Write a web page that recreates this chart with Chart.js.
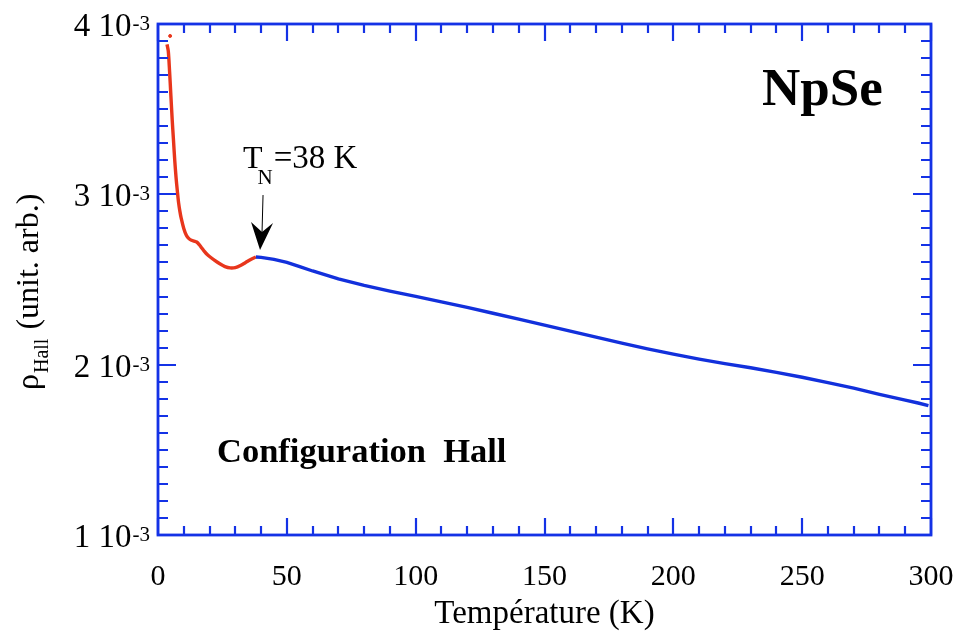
<!DOCTYPE html>
<html>
<head>
<meta charset="utf-8">
<script src="https://cdn.jsdelivr.net/npm/chart.js@4.4.1/dist/chart.umd.min.js"></script>
<style>
    html, body { margin: 0; padding: 0; background: #fff; }
    #wrap { width: 957px; height: 634px; }
</style>
</head>
<body>
<div id="wrap"><canvas id="hall" width="957" height="634"></canvas></div>
<script>
// rho values are in units of 1e-3
const lowT = [3.5, 4.0, 4.5, 5.0, 5.5, 6.0, 6.5, 7.0, 7.5, 8.0, 8.5, 9.0, 10, 11, 12, 13, 14, 15, 16, 17, 18, 19, 20, 22, 24, 26, 28, 30, 32, 34, 36, 38];
const lowRho = [3.88, 3.84, 3.72, 3.58, 3.44, 3.32, 3.20, 3.10, 3.02, 2.95, 2.90, 2.86, 2.80, 2.76, 2.74, 2.73, 2.725, 2.72, 2.705, 2.685, 2.665, 2.648, 2.635, 2.612, 2.592, 2.576, 2.568, 2.570, 2.582, 2.600, 2.618, 2.632];
const highT = [38, 40, 45, 50, 55, 60, 70, 80, 90, 100, 110, 120, 130, 140, 150, 160, 170, 180, 190, 200, 210, 220, 230, 240, 250, 260, 270, 280, 290, 295, 299];
const highRho = [2.632, 2.630, 2.618, 2.600, 2.576, 2.550, 2.504, 2.466, 2.432, 2.401, 2.369, 2.336, 2.302, 2.267, 2.232, 2.197, 2.162, 2.127, 2.093, 2.062, 2.033, 2.006, 1.982, 1.955, 1.926, 1.895, 1.862, 1.826, 1.792, 1.775, 1.760];
const strayT = [4.7];
const strayRho = [3.93];
const xTicks = [0, 50, 100, 150, 200, 250, 300];
const yTicks = [1, 2, 3, 4];
const xMinorStep = 10;
const yMinorStep = 0.1;

const AXIS_BLUE = "#1432e6";
const DATA_BLUE = "#1230dc";
const DATA_RED = "#e8361c";
const SERIF = "'Liberation Serif', 'DejaVu Serif', serif";

function toPoints(xs, ys) {
    return xs.map((x, i) => ({ x: x, y: ys[i] }));
}

const framePlugin = {
    id: "frame",
    afterDatasetsDraw(chart) {
        const ctx = chart.ctx;
        const area = chart.chartArea;
        const xs = chart.scales.x;
        const ys = chart.scales.y;
        ctx.save();

        // inward ticks on all four sides
        ctx.strokeStyle = AXIS_BLUE;
        ctx.lineWidth = 2.2;
        ctx.beginPath();
        for (let v = xs.min; v <= xs.max + 0.001; v += xMinorStep) {
            const px = Math.round(xs.getPixelForValue(v));
            const len = xTicks.includes(Math.round(v)) ? 17 : 9;
            ctx.moveTo(px, area.bottom);
            ctx.lineTo(px, area.bottom - len);
            ctx.moveTo(px, area.top);
            ctx.lineTo(px, area.top + len);
        }
        for (let v = ys.min; v <= ys.max + 0.0001; v += yMinorStep) {
            const py = Math.round(ys.getPixelForValue(v));
            const major = Math.abs(v - Math.round(v)) < 0.001;
            const len = major ? 18 : 10;
            ctx.moveTo(area.left, py);
            ctx.lineTo(area.left + len, py);
            ctx.moveTo(area.right, py);
            ctx.lineTo(area.right - len, py);
        }
        ctx.stroke();

        ctx.lineWidth = 2.8;
        ctx.strokeRect(area.left, area.top, area.right - area.left, area.bottom - area.top);

        // x tick labels
        ctx.fillStyle = "#000";
        ctx.font = "30px " + SERIF;
        ctx.textAlign = "center";
        ctx.textBaseline = "alphabetic";
        xTicks.forEach(v => {
            ctx.fillText(String(v), xs.getPixelForValue(v), 585);
        });

        // y tick labels  "n 10^-3"
        yTicks.forEach(v => {
            const py = ys.getPixelForValue(v);
            ctx.font = "21px " + SERIF;
            ctx.textAlign = "left";
            const supW = ctx.measureText("-3").width;
            ctx.fillText("-3", 150 - supW, py + 6);
            ctx.font = "33px " + SERIF;
            ctx.textAlign = "right";
            ctx.fillText(v + " 10", 150 - supW - 1, py + 12);
        });

        // x axis title
        ctx.font = "33px " + SERIF;
        ctx.textAlign = "center";
        ctx.fillText("Température (K)", (area.left + area.right) / 2, 623);

        // y axis title, rotated
        ctx.save();
        ctx.translate(38, 390);
        ctx.rotate(-Math.PI / 2);
        ctx.textAlign = "left";
        ctx.font = "32px " + SERIF;
        ctx.fillText("ρ", 0, 0);
        let w = ctx.measureText("ρ").width;
        ctx.font = "20px " + SERIF;
        ctx.fillText("Hall", w + 1, 10);
        w += 1 + ctx.measureText("Hall").width;
        ctx.font = "32px " + SERIF;
        ctx.fillText(" (unit. arb.)", w + 1, 0);
        ctx.restore();

        // sample name
        ctx.font = "bold 53px " + SERIF;
        ctx.textAlign = "left";
        ctx.fillText("NpSe", 762, 105);

        // configuration note
        ctx.font = "bold 34.5px " + SERIF;
        ctx.fillText("Configuration  Hall", 217, 462);

        // T_N annotation with arrow pointing at the kink
        const tipX = xs.getPixelForValue(39.6);
        const tipY = ys.getPixelForValue(2.673);
        ctx.font = "32px " + SERIF;
        ctx.fillText("T", tipX - 17, 168);
        const tW = ctx.measureText("T").width;
        ctx.font = "21px " + SERIF;
        ctx.fillText("N", tipX - 17 + tW - 5, 184);
        const nW = ctx.measureText("N").width;
        ctx.font = "33px " + SERIF;
        ctx.fillText("=38 K", tipX - 17 + tW - 5 + nW + 1, 168);

        ctx.strokeStyle = "#000";
        ctx.lineWidth = 1;
        ctx.beginPath();
        ctx.moveTo(tipX + 3, tipY - 55);
        ctx.lineTo(tipX + 2, tipY - 18);
        ctx.stroke();
        ctx.fillStyle = "#000";
        ctx.beginPath();
        ctx.moveTo(tipX, tipY);
        ctx.lineTo(tipX - 9, tipY - 28);
        ctx.lineTo(tipX + 2, tipY - 18);
        ctx.lineTo(tipX + 13, tipY - 27);
        ctx.closePath();
        ctx.fill();

        ctx.restore();
    }
};

const ctx = document.getElementById("hall").getContext("2d");
const hallChart = new Chart(ctx, {
    type: "scatter",
    data: {
        datasets: [
            {
                data: toPoints(highT, highRho),
                showLine: true,
                borderColor: DATA_BLUE,
                borderWidth: 3.4,
                pointRadius: 0,
                tension: 0
            },
            {
                data: toPoints(lowT, lowRho),
                showLine: true,
                borderColor: DATA_RED,
                borderWidth: 3.4,
                pointRadius: 0,
                tension: 0.3
            },
            {
                data: toPoints(strayT, strayRho),
                showLine: false,
                backgroundColor: DATA_RED,
                borderColor: DATA_RED,
                pointRadius: 1.5
            }
        ]
    },
    options: {
        responsive: false,
        animation: false,
        layout: { padding: { top: 24, right: 26, left: 0, bottom: 0 } },
        plugins: { legend: { display: false }, tooltip: { enabled: false } },
        scales: {
            x: {
                type: "linear",
                min: 0,
                max: 300,
                grid: { display: false },
                border: { display: false },
                ticks: { display: false },
                afterFit: s => { s.height = 99; }
            },
            y: {
                type: "linear",
                min: 1,
                max: 4,
                grid: { display: false },
                border: { display: false },
                ticks: { display: false },
                afterFit: s => { s.width = 158; }
            }
        }
    },
    plugins: [framePlugin]
});
</script>
</body>
</html>
